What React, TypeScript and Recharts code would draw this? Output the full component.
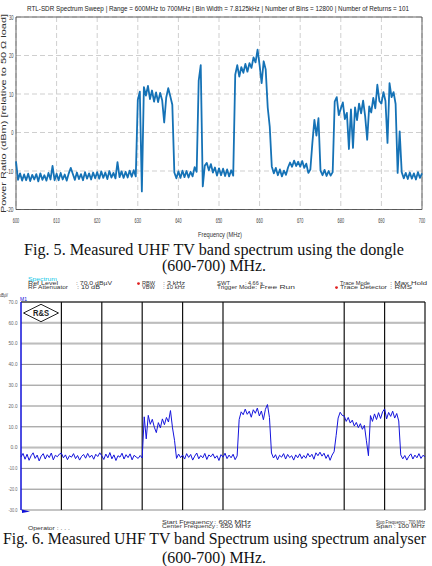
import {
  CartesianGrid,
  Line,
  LineChart,
  ReferenceArea,
  ReferenceLine,
  XAxis,
  YAxis,
} from "recharts";

const NARROW = "'Liberation Sans Narrow', 'Liberation Sans', Arial, sans-serif";
const SANS = "'Liberation Sans', Arial, sans-serif";
const SERIF = "'Liberation Serif', 'Times New Roman', serif";

// both sweeps are sampled every 0.5 MHz from 600 MHz
const FREQ_START = 600;
const FREQ_STEP = 0.5;

// RTL-SDR dongle sweep (dB), one array per 10 MHz
const dongle600 = [-7.5, -12.3, -10.6, -12.5, -10.9, -12.4, -10.7, -12.6, -11, -12.2, -10.8, -12.7, -10.6, -12.3, -11.1, -12.5, -10.5, -12.2, -8.7, -12.4];
const dongle610 = [-10.7, -12.4, -10.5, -12.2, -10.9, -12.5, -10.6, -9.2, -10.8, -12.3, -10.4, -12.1, -10.8, -12.4, -10.3, -12, -10.6, -12.2, -10.4, -11.9];
const dongle620 = [-10.3, -12, -10.1, -11.8, -10.4, -12.1, -10, -11.7, -10.5, -11.9, -7.7, -11.6, -10.1, -11.8, -10.2, -11.7, -9.9, -11.5, -9.8, -11.4];
const dongle630 = [8.5, 10.6, -15.3, 11.8, 9.6, 12.1, 8.7, 10.9, 8, 10.4, 7.9, 10.3, 8.4, 2.6, 9.1, 11.5, 9.4, 7.2, -10.4, -11.9];
const dongle640 = [-10.1, -11.8, -9.9, -11.6, -10, -11.7, -10.2, -11.4, -9, -10.2, 13.5, 17.5, -14, -8.6, -7.9, -9.8, -8.2, -10.4, -9.1, -11.2];
const dongle650 = [-9.3, -11.1, -9.4, -11.3, -9.6, -11.4, -9.8, -11.2, 15, 17.5, 14.5, 17, 15.5, 17.8, 15.8, 18, 16.8, 19.5, 18.2, 21.5];
const dongle660 = [17.5, 12.8, 18.5, 16.4, 6.5, 1.5, -8.8, -10.6, -9.2, -11.1, -9.6, -11.4, -9.9, -11, -9.1, -7.8, -8.9, -7.3, -8.7, -7.6];
const dongle670 = [-8.9, -7.4, -9.2, -8.1, -10.5, -9.6, -2.7, 3.3, -0.8, 3.7, -9.9, -11.1, -9.7, -11.3, -10, -11.2, -10.3, 8, 9.2, 4.5];
const dongle680 = [6.2, 7.8, 3.5, 5.1, -4.3, 6, -4, 6.5, 3.2, 7.5, 5, 8.3, 4.2, -1.9, 6.8, 5.2, 9, 6.3, 12.4, 8.2];
const dongle690 = [7.5, 10.5, 8.2, -2.7, 12.8, 9.2, 10.5, 7.4, -10.5, 0.3, -10.3, -11.9, -10.5, -12.1, -10.4, -12, -10.6, -12.2, -10.3, -11.8];
const dongle700 = [-10.6];

// spectrum analyser trace (dBµV), one array per 10 MHz
const analyser600 = [-4.5, -2.8, -5.6, -3.2, -6.1, -3.9, -2.5, -5.2, -3.6, -6.4, -4.1, -2.9, -5.5, -3.4, -4.8, -2.6, -5.9, -3.7, -4.4, -3.1];
const analyser610 = [-2.7, -4.9, -3.5, -5.8, -3.9, -4.6, -2.9, -5.3, -3.8, -6, -4.2, -3.3, -5.1, -2.8, -4.7, -3.6, -5.6, -3.2, -4.3, -2.5];
const analyser620 = [-4, -5.7, -3.1, -4.9, -2.4, -5.4, -3.5, -6.2, -3.9, -4.6, -2.7, -5.5, -3.4, -4.8, -3, -5.9, -3.7, -4.5, -5.2, -3.8];
const analyser630 = [-5, 14.8, 4.2, 15.5, 11.2, 13.6, 9.8, 7.2, 12, 9.5, 13.8, 11, 14.5, 12.3, 17.8, 9.5, 3.5, -5.2, -3.1, -4.8];
const analyser640 = [-3.6, -5.5, -2.9, -4.7, -3.3, -6, -4.1, -2.6, -5.4, -3.8, -4.9, -2.8, -5.7, -3.5, -4.4, -3, -5.1, -3.9, -6.2, -3.4];
const analyser650 = [-4.6, -2.7, -5.3, -3.6, -4.9, -3.2, -5.8, -4, 13.5, 17.2, 15.8, 18.5, 16, 17.5, 14.6, 18.2, 16.5, 19, 15.2, 17.6];
const analyser660 = [13.4, 18.4, 20.7, 14.5, -2.6, -5, -3.4, -5.9, -3.7, -4.6, -2.9, -5.5, -3.3, -4.8, -3.9, -6, -3.5, -4.9, -3, -5.3];
const analyser670 = [-3.8, -5.1, -2.8, -4.5, -3.2, -5.6, -2.5, -3.9, -2.2, -4.1, -2.7, -5.2, -3.4, -6.1, -3.6, -2, 5.7, 14.2, 17, 15.5];
const analyser680 = [15.2, 12.6, 14.5, 11.8, 13.2, 10.4, 12.1, 9.6, 11.5, 8.8, 10.7, 3.3, -3.9, 15.4, 12.6, 16.2, 13.5, 16.8, 14, 17.2];
const analyser690 = [18.6, 13.8, 16.9, 15, 17.5, 14.2, 16.4, 12.8, -3.5, -5.4, -3.8, -6, -4.2, -3, -5.5, -3.6, -4.9, -2.9, -5.2, -3.7];
const analyser700 = [-4.4];

const FREQ_TICKS = [600, 610, 620, 630, 640, 650, 660, 670, 680, 690, 700];
const DONGLE_TICKS = [-20, -10, 0, 10, 20, 30];
const ANALYSER_TICKS = [-30, -20, -10, 0, 10, 20, 30, 40, 50, 60, 70];
// the analyser screenshot only shows these divisions
const ANALYSER_VLINES = [610, 620, 630, 640, 650, 680, 690, 700];
const ANALYSER_LIGHT_LINES = [60, 50, 0];

const toRows = (values: number[]) =>
  values.map((db, i) => ({ freq: FREQ_START + i * FREQ_STEP, db }));

const dongleData = toRows([
  ...dongle600, ...dongle610, ...dongle620, ...dongle630, ...dongle640,
  ...dongle650, ...dongle660, ...dongle670, ...dongle680, ...dongle690, ...dongle700,
]);

const analyserData = toRows([
  ...analyser600, ...analyser610, ...analyser620, ...analyser630, ...analyser640,
  ...analyser650, ...analyser660, ...analyser670, ...analyser680, ...analyser690, ...analyser700,
]);

type TextProps = {
  x: number;
  y: number;
  w: number;
  size: number;
  fill?: string;
  anchor?: "start" | "middle" | "end";
  family?: string;
  weight?: number;
  children: string;
};

function Txt({ x, y, w, size, fill = "#333", anchor = "start", family = SANS, weight, children }: TextProps) {
  return (
    <text
      x={x}
      y={y}
      fontSize={size}
      fill={fill}
      textAnchor={anchor}
      fontFamily={family}
      fontWeight={weight}
      textLength={w}
      lengthAdjust="spacingAndGlyphs"
    >
      {children}
    </text>
  );
}

function DongleXTick({ x, y, payload }: any) {
  return (
    <text x={x} y={y + 13} textAnchor="middle" fontSize={7.5} fill="#444" fontFamily={NARROW}
      textLength={6.5} lengthAdjust="spacingAndGlyphs">
      {payload.value}
    </text>
  );
}

function DongleYTick({ x, y, payload }: any) {
  const label = String(payload.value);
  return (
    <text x={x} y={y + 2.6} textAnchor="end" fontSize={7.5} fill="#444" fontFamily={NARROW}
      textLength={label.length * 2.3} lengthAdjust="spacingAndGlyphs">
      {label}
    </text>
  );
}

function AnalyserYTick({ x, y, payload }: any) {
  const label = Number(payload.value).toFixed(1);
  return (
    <text x={x} y={y + 1.7} textAnchor="end" fontSize={5} fill="#666" fontFamily={SANS}
      textLength={label.length > 3 ? 9 : 7} lengthAdjust="spacingAndGlyphs">
      {label}
    </text>
  );
}

function DongleChart() {
  return (
    <LineChart width={432} height={245} data={dongleData} margin={{ top: 17, right: 10, bottom: 21.5, left: 4 }}>
      <CartesianGrid stroke="#cfcfcf" strokeDasharray="5 3" />
      <XAxis
        dataKey="freq"
        type="number"
        domain={[600, 700]}
        ticks={FREQ_TICKS}
        interval={0}
        height={14}
        axisLine={false}
        tickLine={false}
        tickSize={0}
        tickMargin={0}
        tick={<DongleXTick />}
      />
      <YAxis
        type="number"
        domain={[-20, 30]}
        ticks={DONGLE_TICKS}
        interval={0}
        width={12}
        axisLine={false}
        tickLine={false}
        tickSize={0}
        tickMargin={2.5}
        tick={<DongleYTick />}
      />
      <ReferenceArea x1={600} x2={700} y1={-20} y2={30} fillOpacity={0} stroke="#3a3a3a" strokeWidth={0.8} />
      <Line
        dataKey="db"
        type="linear"
        stroke="#1572b6"
        strokeWidth={1.8}
        strokeLinejoin="round"
        dot={false}
        isAnimationActive={false}
      />
    </LineChart>
  );
}

function AnalyserChart() {
  return (
    <LineChart width={432} height={240} data={analyserData} margin={{ top: 22, right: 7, bottom: 10, left: 2 }}>
      <CartesianGrid vertical={false} stroke="#8a8a8a" />
      <XAxis dataKey="freq" type="number" domain={[600, 700]} hide />
      <YAxis
        type="number"
        domain={[-30, 70]}
        ticks={ANALYSER_TICKS}
        interval={0}
        width={19}
        axisLine={false}
        tickLine={false}
        tickSize={0}
        tickMargin={3.5}
        tick={<AnalyserYTick />}
      />
      {ANALYSER_LIGHT_LINES.map((v) => (
        <ReferenceLine key={`h${v}`} y={v} stroke="#bdbdbd" strokeWidth={2} />
      ))}
      <ReferenceLine y={70} stroke="#111" strokeWidth={1} />
      {ANALYSER_VLINES.map((f) => (
        <ReferenceLine key={`v${f}`} x={f} stroke="#111" strokeWidth={1.2} />
      ))}
      <ReferenceLine x={600} stroke="#1010d8" strokeWidth={1.5} />
      <Line
        dataKey="db"
        type="linear"
        stroke="#1414dc"
        strokeWidth={1}
        dot={false}
        isAnimationActive={false}
      />
    </LineChart>
  );
}

export default function App() {
  return (
    <div style={{ position: "absolute", left: 0, top: 0, width: 432, height: 566, background: "#fff", overflow: "hidden" }}>
      <div style={{ position: "absolute", left: 0, top: 0 }}>
        <DongleChart />
      </div>
      <div style={{ position: "absolute", left: 0, top: 280 }}>
        <AnalyserChart />
      </div>
      <svg width={432} height={566} style={{ position: "absolute", left: 0, top: 0, pointerEvents: "none" }}>
        {/* dongle plot texts */}
        <Txt x={218} y={10.8} w={382} size={6.6} anchor="middle" family={NARROW} fill="#222">
          RTL-SDR Spectrum Sweep  |  Range = 600MHz to 700MHz  |  Bin Width = 7.8125kHz  |  Number of Bins = 12800  |  Number of Returns = 101
        </Txt>
        <g transform="rotate(-90 6 113.5)">
          <Txt x={6} y={113.5} w={199} size={7.5} anchor="middle" family={NARROW} fill="#333">
            Power Ratio (dBm) [relative to 50 Ω load]
          </Txt>
        </g>
        <Txt x={220} y={236.5} w={44} size={7.5} anchor="middle" family={NARROW} fill="#333">
          Frequency (MHz)
        </Txt>

        {/* Fig. 5 caption */}
        <Txt x={214} y={255} w={380} size={16} anchor="middle" family={SERIF} fill="#111">
          Fig. 5.  Measured UHF TV band spectrum using the dongle
        </Txt>
        <Txt x={214} y={270.5} w={104} size={16} anchor="middle" family={SERIF} fill="#111">
          (600-700) MHz.
        </Txt>

        {/* analyser header */}
        <Txt x={28} y={281} w={29} size={4.5} fill="#10c8e8">Spectrum</Txt>
        <Txt x={28} y={285} w={30} size={4.5}>Ref Level</Txt>
        <Txt x={76} y={285} w={36} size={4.5}>: 70.0 dBµV</Txt>
        <Txt x={28} y={289} w={40} size={4.5}>RF Attenuator</Txt>
        <Txt x={77} y={289} w={23} size={4.5}>: 10 dB</Txt>
        <circle cx={138.5} cy={283.6} r={1.4} fill="#e02020" />
        <Txt x={142} y={285} w={13} size={4.5}>RBW</Txt>
        <Txt x={163} y={285} w={22} size={4.5}>: 3 kHz</Txt>
        <Txt x={142} y={289} w={13} size={4.5}>VBW</Txt>
        <Txt x={163} y={289} w={22} size={4.5}>: 10 kHz</Txt>
        <Txt x={217} y={285} w={13} size={4.5}>SWT</Txt>
        <Txt x={245} y={285} w={18} size={4.5}>: 4.66 s</Txt>
        <Txt x={217} y={289} w={38} size={4.5}>Trigger Mode</Txt>
        <Txt x={255} y={289} w={40} size={4.5}>: Free Run</Txt>
        <Txt x={340} y={285} w={30} size={4.5}>Trace Mode</Txt>
        <Txt x={390} y={285} w={37} size={4.5}>: Max Hold</Txt>
        <circle cx={336.5} cy={287.6} r={1.4} fill="#e02020" />
        <Txt x={340} y={289} w={47} size={4.5}>Trace Detector</Txt>
        <Txt x={390} y={289} w={22} size={4.5}>: RMS</Txt>
        <Txt x={0} y={296.5} w={8} size={4.5}>dBµV</Txt>
        <Txt x={20} y={300.5} w={7} size={5} fill="#1010d8">M1</Txt>

        {/* R&S logo */}
        <polygon points="23.5,313 41,304.3 58.5,313 41,321.7" fill="#fff" stroke="#222" strokeWidth={1} />
        <Txt x={41} y={316.3} w={16} size={8.5} anchor="middle" weight={700} fill="#222">R&S</Txt>

        {/* marker at the start of the trace */}
        <polygon points="22,513 30,511.5 22,509.5" fill="#1010d8" />

        {/* analyser footer */}
        <Txt x={28} y={529.5} w={42} size={4.5}>Operator : . . .</Txt>
        <Txt x={162} y={524} w={51} size={4.5}>Start Frequency</Txt>
        <Txt x={214} y={524} w={37} size={4.5}>:   600 MHz</Txt>
        <Txt x={162} y={527.8} w={53} size={4.5}>Center Frequency</Txt>
        <Txt x={216} y={527.8} w={35} size={4.5}>:  650 MHz</Txt>
        <Txt x={376} y={524} w={49} size={4.5}>Stop Frequency : 700 MHz</Txt>
        <Txt x={376} y={527.8} w={49} size={4.5}>Span          : 100 MHz</Txt>

        {/* Fig. 6 caption */}
        <Txt x={214.5} y={543.5} w={423} size={16} anchor="middle" family={SERIF} fill="#111">
          Fig. 6. Measured UHF TV band Spectrum using spectrum analyser
        </Txt>
        <Txt x={214} y={562.5} w={104} size={16} anchor="middle" family={SERIF} fill="#111">
          (600-700) MHz.
        </Txt>
      </svg>
    </div>
  );
}
